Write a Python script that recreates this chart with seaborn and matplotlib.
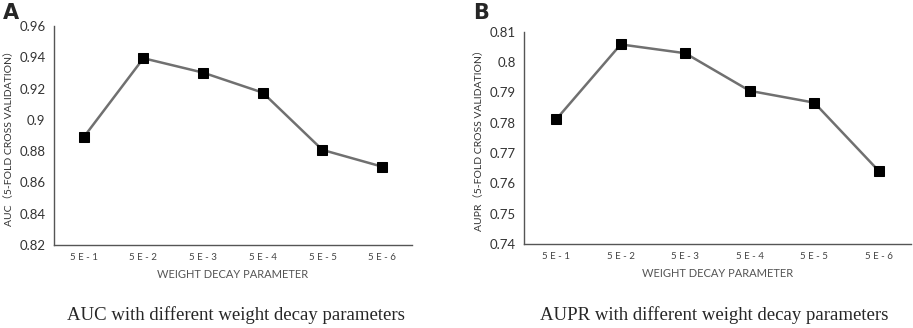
import pandas as pd
import seaborn as sns
import matplotlib.pyplot as plt

# weight decay values on the x axis
decay = ["5E-1", "5E-2", "5E-3", "5E-4", "5E-5", "5E-6"]

auc = [0.889, 0.9394, 0.9302, 0.9174, 0.8808, 0.8701]
aupr = [0.7811, 0.8058, 0.8029, 0.7905, 0.7866, 0.7641]

auc_ticks = [0.82, 0.84, 0.86, 0.88, 0.9, 0.92, 0.94, 0.96]
aupr_ticks = [0.74, 0.75, 0.76, 0.77, 0.78, 0.79, 0.8, 0.81]

sns.set_style("white")
plt.rcParams['font.family'] = ['Lato', 'Noto Sans CJK SC', 'DejaVu Sans']

fig = plt.figure(figsize=(9.13, 3.28), dpi=100)

def panel(rect, values, ticks, ylabel, caption, letter, cap_x):
    ax = fig.add_axes(rect)
    df = pd.DataFrame({"decay": decay, "score": values, "pos": range(len(decay))})
    sns.lineplot(data=df, x="pos", y="score", ax=ax, color="#707070", lw=1.8,
                 marker="s", markersize=7, markerfacecolor="black",
                 markeredgecolor="black")
    ax.set_xlim(-0.5, len(decay) - 0.5)
    ax.set_ylim(ticks[0], ticks[-1])
    ax.set_yticks(ticks)
    ax.set_yticklabels([f"{t:g}" for t in ticks], fontsize=9.5, color="#333333")
    ax.set_xticks(range(len(decay)))
    ax.set_xticklabels([" ".join(d) for d in decay], fontsize=7, color="#444444")
    ax.tick_params(length=0, pad=6)
    ax.set_xlabel("WEIGHT DECAY PARAMETER", fontsize=8, color="#555555", labelpad=5)
    ax.set_ylabel(ylabel, fontsize=7.5, color="#333333", labelpad=4,
                  family=['Lato', 'Noto Sans CJK SC'])
    for s in ["top", "right"]:
        ax.spines[s].set_visible(False)
    for s in ["left", "bottom"]:
        ax.spines[s].set_color("#555555")
        ax.spines[s].set_linewidth(1.0)
    fig.text(cap_x, 0.04, caption, ha="center", va="center",
             family="Liberation Serif", fontsize=13.5)
    fig.text(rect[0] - 0.056, 0.99, letter, ha="left", va="top",
             fontsize=15, fontweight="bold", family="DejaVu Sans")
    return ax

panel([0.0591, 0.2530, 0.3921, 0.6677], auc, auc_ticks,
      "AUC（5-FOLD CROSS VALIDATION）",
      "AUC with different weight decay parameters", "A", 0.258)
panel([0.5739, 0.2561, 0.4239, 0.6473], aupr, aupr_ticks,
      "AUPR（5-FOLD CROSS VALIDATION）",
      "AUPR with different weight decay parameters", "B", 0.782)

fig.savefig("out.png", dpi=100)
